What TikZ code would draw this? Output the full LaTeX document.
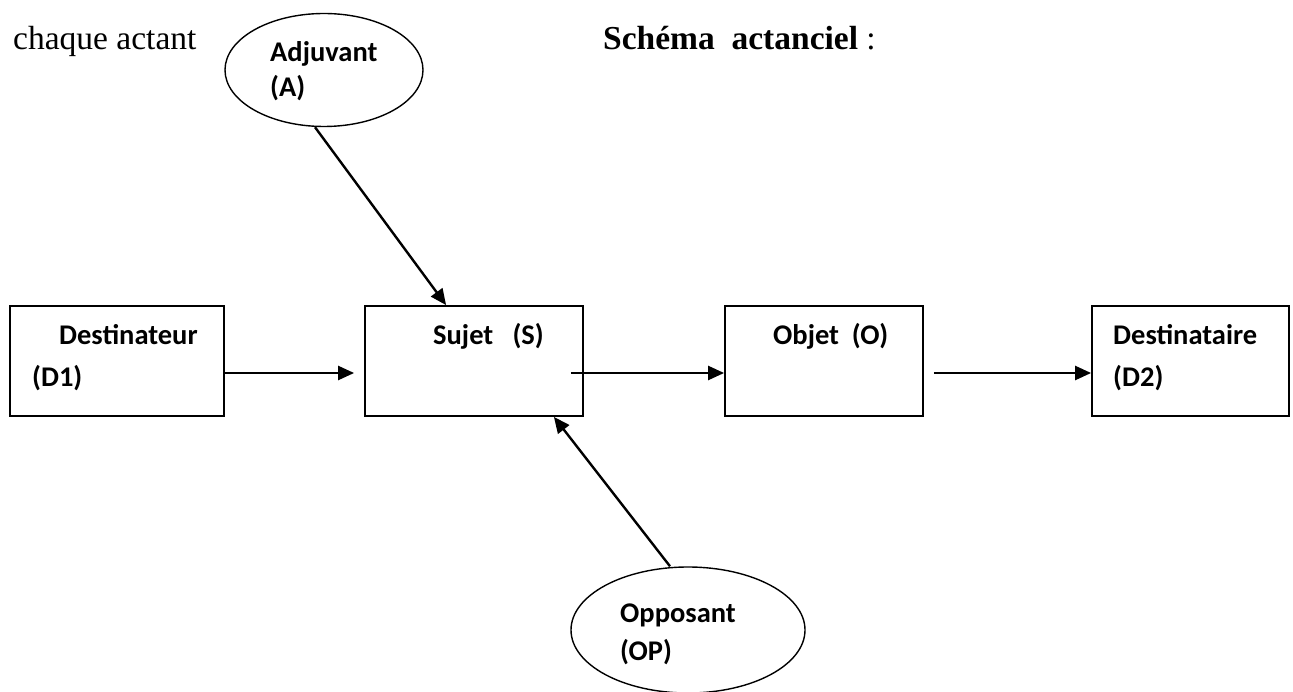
\documentclass[tikz,border=0pt]{standalone}
\usepackage{fontspec}
\setmainfont{Liberation Serif}
\newfontfamily\calibri{Carlito}
\usetikzlibrary{arrows.meta,shapes.geometric}

\tikzset{
  box/.style={draw,line width=1.8pt,minimum width=#1,minimum height=110pt,inner sep=0pt},
  oval/.style={draw,ellipse,line width=1.4pt,inner sep=0pt},
  lbl/.style={anchor=base west,inner sep=0pt,font=\calibri\bfseries\fontsize{28.5}{34}\selectfont},
  title/.style={anchor=base west,inner sep=0pt,font=\fontsize{33.5}{40}\selectfont},
  arr/.style={line width=2.4pt,-{Triangle[length=16pt,width=14pt]}}
}

\begin{document}
\begin{tikzpicture}[x=1pt,y=-1pt]
\useasboundingbox (0,0) rectangle (1293,692);

\node[title] (txt) at (13,50) {chaque actant};
\node[title] (titre) at (603,50) {\textbf{Schéma\ \ actanciel} :};

% boites
\node[box=214pt] (d1) at (117,361) {};
\node[box=218pt] (sujet) at (474,361) {};
\node[box=198pt] (objet) at (824,361) {};
\node[box=197pt] (d2) at (1190.5,361) {};

\node[lbl] (d1a) at (59,345) {Destinateur};
\node[lbl] (d1b) at (32,387) {(D1)};
\node[lbl] (sa) at (433,345) {Sujet\ \ \ (S)};
\node[lbl] (oa) at (773,345) {Objet\ \ (O)};
\node[lbl] (d2a) at (1113,345) {Destinataire};
\node[lbl] (d2b) at (1113,387) {(D2)};

% ovales
\node[oval,minimum width=198pt,minimum height=113pt] (adj) at (324,70) {};
\node[oval,minimum width=234pt,minimum height=126pt] (opp) at (688,630) {};

\node[lbl] (aa) at (270,62) {Adjuvant};
\node[lbl] (ab) at (270,97) {(A)};
\node[lbl] (opa) at (620,622) {Opposant};
\node[lbl] (opb) at (620,660) {(OP)};

% fleches
\draw[arr] ([yshift=-12pt]d1.east) -- ([xshift=-10pt,yshift=-12pt]sujet.west);
\draw[arr] ([xshift=-13pt,yshift=-12pt]sujet.east) -- ([yshift=-12pt]objet.west);
\draw[arr] ([xshift=10pt,yshift=-12pt]objet.east) -- ([yshift=-12pt]d2.west);
\draw[arr] ([xshift=-9pt]adj.south) -- ([xshift=82pt]sujet.north west);
\draw[arr] ([xshift=-18pt]opp.north) -- ([xshift=-30pt]sujet.south east);
\end{tikzpicture}
\end{document}
